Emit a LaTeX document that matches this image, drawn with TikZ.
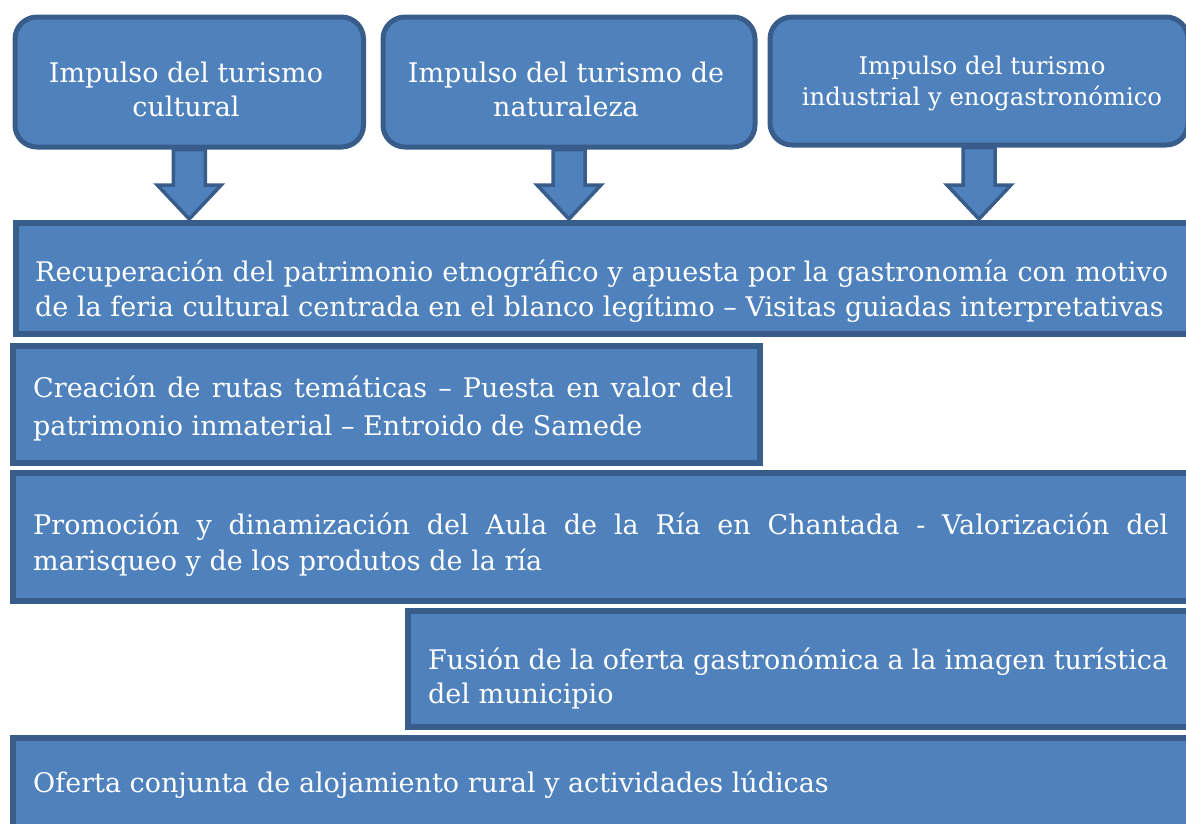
\documentclass[tikz,border=0pt]{standalone}
\usepackage{fontspec}
\setmainfont{DejaVu Serif}
\usetikzlibrary{calc}
\definecolor{boxfill}{HTML}{4F81BD}
\definecolor{boxline}{HTML}{385D8A}
\tikzset{
  topbox/.style={draw=boxline, line width=5pt, fill=boxfill, rounded corners=22pt, anchor=north west, inner sep=0pt},
  longbox/.style={draw=boxline, line width=6pt, fill=boxfill, anchor=north west, inner sep=0pt},
  boxtext/.style={text=white, inner sep=0pt, font=\fontsize{27pt}{34pt}\selectfont},
  blockarrow/.style={draw=boxline, line width=3.5pt, fill=boxfill, line join=miter}
}
\begin{document}
\begin{tikzpicture}[x=1pt,y=-1pt]
\useasboundingbox (0,0) rectangle (1186,823);
% top rounded boxes
\node[topbox, minimum width=348.5pt, minimum height=130pt] (t1) at (12.5,14.5) {};
\node[topbox, minimum width=372pt, minimum height=130pt] (t2) at (380.5,14.5) {};
\node[topbox, minimum width=418pt, minimum height=128pt] (t3) at (767.5,14.5) {};
\node[boxtext, align=center] (t1t) at (186,89) {Impulso del turismo\\cultural};
\node[boxtext, align=center] (t2t) at (566,89) {Impulso del turismo de\\naturaleza};
\node[boxtext, align=center, font=\fontsize{24.3pt}{31pt}\selectfont] (t3t) at (982,83) {Impulso del turismo\\industrial y enogastronómico};
% long boxes
\node[longbox, minimum width=1190pt, minimum height=111pt] (b1) at (13,220) {};
\node[longbox, minimum width=747pt, minimum height=117pt] (b2) at (10,343) {};
\node[longbox, minimum width=1190pt, minimum height=128pt] (b3) at (10,470) {};
\node[longbox, minimum width=800pt, minimum height=116pt] (b4) at (405,608) {};
\node[longbox, minimum width=1190pt, minimum height=100pt] (b5) at (10,735) {};
% texts
\begin{scope}
\clip (0,222) rectangle (1186,321);
\node[boxtext, text width=1133pt, align=justify, anchor=west, font=\fontsize{27pt}{35pt}\selectfont] (b1t) at (35,291)
 {Recuperación del patrimonio etnográfico y apuesta por la gastronomía con motivo\linebreak de la feria cultural centrada en el blanco legítimo – Visitas guiadas interpretativas};
\end{scope}
\node[boxtext, text width=700pt, align=justify, anchor=west, font=\fontsize{27pt}{38pt}\selectfont] (b2t) at (33,409)
 {Creación de rutas temáticas – Puesta en valor del\linebreak patrimonio inmaterial – Entroido de Samede};
\node[boxtext, text width=1135pt, align=justify, anchor=west, font=\fontsize{27pt}{36pt}\selectfont] (b3t) at (33,545)
 {Promoción y dinamización del Aula de la Ría en Chantada - Valorización del\linebreak marisqueo y de los produtos de la ría};
\node[boxtext, text width=740pt, align=justify, anchor=west] (b4t) at (428,678)
 {Fusión de la oferta gastronómica a la imagen turística\linebreak del municipio};
\node[boxtext, anchor=west] (b5t) at (33,785) {Oferta conjunta de alojamiento rural y actividades lúdicas};
% block arrows
\foreach \t in {t1,t2,t3}{
  \draw[blockarrow] let \p1=(\t.south), \p2=(b1.north) in
    (\x1-16,\y1) -- (\x1+16,\y1) -- (\x1+16,\y2+35) -- (\x1+32,\y2+35) -- (\x1,\y2+1) -- (\x1-32,\y2+35) -- (\x1-16,\y2+35) -- cycle;
}
\end{tikzpicture}
\end{document}
